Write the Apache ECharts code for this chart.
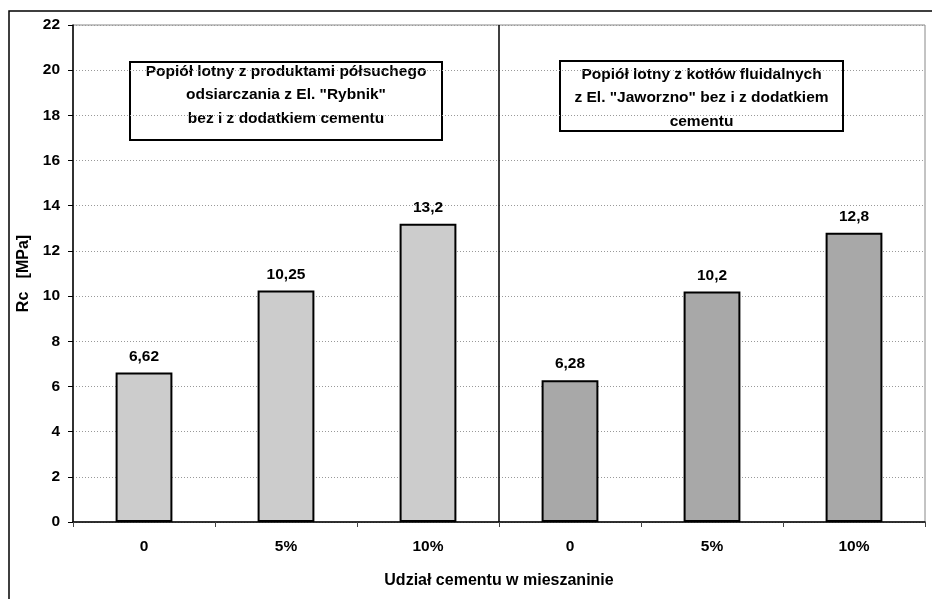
<!DOCTYPE html>
<html>
<head>
<meta charset="utf-8">
<script src="https://cdn.jsdelivr.net/npm/echarts@6/dist/echarts.min.js"></script>
<style>
  html, body { margin: 0; padding: 0; background: #fff; }
  #chart { width: 932px; height: 599px; }
</style>
</head>
<body>
<div id="chart"></div>
<script>
// Cement share categories for the two ash types
const categories = ['0', '5%', '10%', '0', '5%', '10%'];
// Compressive strength Rc [MPa]
const rybnikValues = [6.62, 10.25, 13.2, null, null, null];
const jaworznoValues = [null, null, null, 6.28, 10.2, 12.8];
const yTicks = { min: 0, max: 22, interval: 2 };
// Boundary between the two ash groups (in category units) and its vertical span
const groupBoundary = [[3, 0], [3, 22]];

const boxRybnik = 'Popiół lotny z produktami półsuchego\nodsiarczania z El. "Rybnik"\nbez i z dodatkiem cementu';
const boxJaworzno = 'Popiół lotny z kotłów fluidalnych\nz El. "Jaworzno" bez i z dodatkiem\ncementu';

const FONT = 'Liberation Sans, Arial, sans-serif';
const FS = 15.5;
const chart = echarts.init(document.getElementById('chart'));

const valueLabel = {
  show: true,
  position: 'top',
  distance: 8,
  color: '#000',
  fontFamily: FONT,
  fontWeight: 'bold',
  fontSize: FS,
  formatter: p => String(p.value).replace('.', ',')
};

function noteBox(x, y, w, h, text, textY) {
  return {
    type: 'group',
    x: x, y: y,
    children: [
      { type: 'rect', shape: { x: 0, y: 0, width: w, height: h },
        style: { fill: '#fff', stroke: '#000', lineWidth: 2 } },
      { type: 'text', x: w / 2, y: textY,
        style: { text: text, fill: '#000', font: 'bold ' + FS + 'px ' + FONT,
                 textAlign: 'center', textVerticalAlign: 'middle', lineHeight: 23.5 } }
    ]
  };
}

chart.setOption({
  animation: false,
  backgroundColor: '#fff',
  grid: { left: 73, right: 7, top: 25, bottom: 77, show: true, borderColor: '#888', borderWidth: 1 },
  xAxis: [
    {
      type: 'category',
      data: categories,
      boundaryGap: true,
      name: 'Udział cementu w mieszaninie',
      nameLocation: 'middle',
      nameGap: 51,
      nameTextStyle: { color: '#000', fontFamily: FONT, fontWeight: 'bold', fontSize: 16 },
      axisLine: { lineStyle: { color: '#000', width: 1.5 } },
      axisTick: { show: true, interval: 0, length: 5, lineStyle: { color: '#444' } },
      axisLabel: { interval: 0, margin: 17, color: '#000', fontFamily: FONT, fontWeight: 'bold', fontSize: FS },
      splitLine: { show: false }
    },
    {
      // helper axis in category units, used for the group divider
      type: 'value', min: 0, max: 6, show: false
    }
  ],
  yAxis: {
    type: 'value',
    min: yTicks.min, max: yTicks.max, interval: yTicks.interval,
    name: 'Rc   [MPa]',
    nameLocation: 'middle',
    nameGap: 36,
    nameRotate: 90,
    nameTextStyle: { color: '#000', fontFamily: FONT, fontWeight: 'bold', fontSize: 16 },
    axisLine: { show: true, lineStyle: { color: '#000', width: 1.5 } },
    axisTick: { show: true, length: 5, lineStyle: { color: '#000' } },
    axisLabel: { margin: 13, color: '#000', fontFamily: FONT, fontWeight: 'bold', fontSize: FS },
    splitLine: { show: true, lineStyle: { color: '#999', type: [1, 2], width: 1 } }
  },
  series: [
    {
      name: 'Rybnik', type: 'bar', data: rybnikValues, barWidth: '40%', barGap: '-100%',
      itemStyle: { color: '#cccccc', borderColor: '#000', borderWidth: 2 },
      label: valueLabel
    },
    {
      name: 'Jaworzno', type: 'bar', data: jaworznoValues, barWidth: '40%',
      itemStyle: { color: '#a8a8a8', borderColor: '#000', borderWidth: 2 },
      label: valueLabel
    },
    {
      name: 'divider', type: 'line', xAxisIndex: 1, data: groupBoundary,
      symbol: 'none', silent: true, z: 1,
      lineStyle: { color: '#000', width: 1.5 }
    }
  ],
  graphic: [
    { type: 'rect', shape: { x: 9, y: 11, width: 940, height: 600 },
      style: { fill: 'none', stroke: '#000', lineWidth: 1.5 }, silent: true, z: -1 },
    noteBox(130, 62, 312, 78, boxRybnik, 33),
    noteBox(560, 61, 283, 70, boxJaworzno, 37)
  ]
});
</script>
</body>
</html>
